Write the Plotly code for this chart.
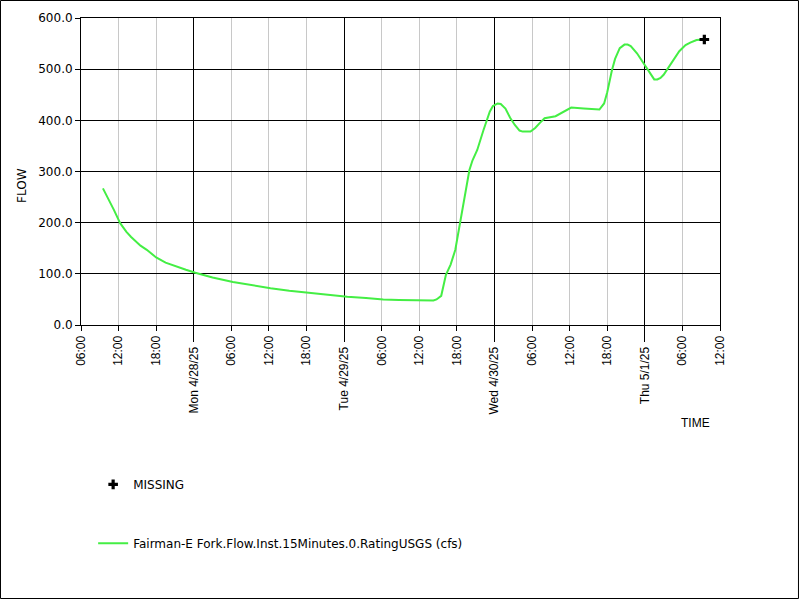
import plotly.graph_objects as go

# ---- data ----
times = [
    "2025-04-27 09:30", "2025-04-27 10:15", "2025-04-27 11:15", "2025-04-27 12:15",
    "2025-04-27 13:15", "2025-04-27 14:00", "2025-04-27 14:45", "2025-04-27 15:30",
    "2025-04-27 16:30", "2025-04-27 18:00", "2025-04-27 19:30", "2025-04-27 21:15",
    "2025-04-27 22:45", "2025-04-28 00:15", "2025-04-28 03:00", "2025-04-28 06:15",
    "2025-04-28 09:30", "2025-04-28 12:15", "2025-04-28 15:15", "2025-04-28 18:00",
    "2025-04-28 21:15", "2025-04-29 00:30", "2025-04-29 03:30", "2025-04-29 06:15",
    "2025-04-29 08:45", "2025-04-29 11:00", "2025-04-29 14:15", "2025-04-29 14:45",
    "2025-04-29 15:30", "2025-04-29 16:15", "2025-04-29 17:00", "2025-04-29 17:45",
    "2025-04-29 18:30", "2025-04-29 19:15", "2025-04-29 20:00", "2025-04-29 20:30",
    "2025-04-29 21:15", "2025-04-29 22:15", "2025-04-29 23:15", "2025-04-29 23:45",
    "2025-04-30 00:30", "2025-04-30 01:00", "2025-04-30 01:45", "2025-04-30 02:30",
    "2025-04-30 03:15", "2025-04-30 04:00", "2025-04-30 04:30", "2025-04-30 05:45",
    "2025-04-30 06:30", "2025-04-30 07:15", "2025-04-30 08:00", "2025-04-30 09:45",
    "2025-04-30 11:00", "2025-04-30 12:15", "2025-04-30 14:15", "2025-04-30 16:45",
    "2025-04-30 17:30", "2025-04-30 18:00", "2025-04-30 18:45", "2025-04-30 19:15",
    "2025-04-30 20:00", "2025-04-30 20:45", "2025-04-30 21:15", "2025-04-30 21:45",
    "2025-04-30 22:45", "2025-04-30 23:30", "2025-05-01 00:15", "2025-05-01 01:00",
    "2025-05-01 01:30", "2025-05-01 02:00", "2025-05-01 02:30", "2025-05-01 03:00",
    "2025-05-01 04:30", "2025-05-01 05:30", "2025-05-01 06:30", "2025-05-01 07:15",
    "2025-05-01 08:15", "2025-05-01 09:30",
]
flow = [
    267, 250, 225, 199,
    182, 172, 163, 155,
    147, 132, 122, 114,
    108, 102, 93, 84,
    77, 72, 67, 63,
    59, 55, 53, 50,
    49, 49, 48, 50,
    57, 98, 118, 147,
    199, 257, 303, 322,
    342, 381, 417, 428,
    433, 432, 423, 405,
    391, 380, 378, 378,
    385, 395, 404, 408,
    417, 425, 423, 421,
    433, 455, 498, 520,
    541, 548, 548, 545,
    531, 517, 502, 487,
    480, 480, 483, 489,
    518, 535, 547, 552,
    557, 558,
]

missing_times = ["2025-05-01 09:30"]
missing_flow = [558]

time_ticks = [
    "2025-04-27 06:00", "2025-04-27 12:00", "2025-04-27 18:00",
    "2025-04-28 06:00", "2025-04-28 12:00", "2025-04-28 18:00",
    "2025-04-29 06:00", "2025-04-29 12:00", "2025-04-29 18:00",
    "2025-04-30 06:00", "2025-04-30 12:00", "2025-04-30 18:00",
    "2025-05-01 06:00", "2025-05-01 12:00",
]
time_labels = ["06:00", "12:00", "18:00"] * 4 + ["06:00", "12:00"]

day_ticks = ["2025-04-28 00:00", "2025-04-29 00:00", "2025-04-30 00:00", "2025-05-01 00:00"]
day_labels = ["Mon 4/28/25", "Tue 4/29/25", "Wed 4/30/25", "Thu 5/1/25"]

x_range = ["2025-04-27 06:00", "2025-05-01 12:00"]
y_ticks = [0, 100, 200, 300, 400, 500, 600]

series_name = "Fairman-E Fork.Flow.Inst.15Minutes.0.RatingUSGS (cfs)"

ARIAL = "Liberation Sans, Arial, sans-serif"
DEJAVU = "DejaVu Sans, Verdana, sans-serif"

fig = go.Figure()
fig.add_trace(go.Scatter(
    x=times, y=flow, mode="lines", name=series_name,
    line=dict(color="#44ee44", width=2), legend="legend2",
    xaxis="x", yaxis="y",
))
fig.add_trace(go.Scatter(
    x=missing_times, y=missing_flow, mode="markers", name="MISSING",
    marker=dict(symbol="cross", color="black", size=8),
    legend="legend", xaxis="x2", yaxis="y",
))

fig.update_layout(
    width=800, height=600,
    margin=dict(l=81, r=80, t=18, b=275),
    paper_bgcolor="white", plot_bgcolor="white",
    xaxis=dict(
        range=x_range, type="date",
        tickmode="array", tickvals=time_ticks, ticktext=time_labels,
        tickangle=-90, ticks="outside", ticklen=5, tickcolor="black",
        tickfont=dict(family=ARIAL, size=12, color="black"),
        showgrid=True, gridcolor="#c8c8c8", gridwidth=1,
        showline=True, linecolor="black", linewidth=1, mirror=True,
        zeroline=False,
    ),
    xaxis2=dict(
        overlaying="x", matches="x", anchor="y", side="bottom", type="date",
        tickmode="array", tickvals=day_ticks, ticktext=day_labels,
        tickangle=-90, ticks="outside", ticklen=16, tickcolor="black",
        tickfont=dict(family=ARIAL, size=12, color="black"),
        showgrid=True, gridcolor="black", gridwidth=1,
        showline=False, zeroline=False,
    ),
    yaxis=dict(
        range=[0, 600], tickmode="array", tickvals=y_ticks,
        tickformat=".1f", ticks="outside", ticklen=5, tickcolor="black",
        tickfont=dict(family=DEJAVU, size=12, color="black"),
        showgrid=True, gridcolor="black", gridwidth=1,
        showline=True, linecolor="black", linewidth=1, mirror=True,
        zeroline=False,
    ),
    legend=dict(
        x=0.019, y=-0.472, xanchor="left", yanchor="top",
        bgcolor="rgba(0,0,0,0)", font=dict(family=DEJAVU, size=12, color="black"),
    ),
    legend2=dict(
        x=0.019, y=-0.664, xanchor="left", yanchor="top",
        bgcolor="rgba(0,0,0,0)", font=dict(family=DEJAVU, size=12, color="black"),
    ),
    showlegend=True,
    annotations=[
        dict(text="TIME", xref="paper", yref="paper", x=0.961, y=-0.319,
             showarrow=False, xanchor="center", yanchor="middle",
             font=dict(family=ARIAL, size=12, color="black")),
        dict(text="FLOW", xref="paper", yref="paper", x=-0.0923, y=0.453,
             showarrow=False, xanchor="center", yanchor="middle", textangle=-90,
             font=dict(family=DEJAVU, size=12, color="black")),
    ],
    shapes=[
        dict(type="rect", xref="paper", yref="paper",
             x0=-0.1260, x1=1.1228, y0=-0.8909, y1=1.0570,
             line=dict(color="black", width=1), fillcolor="rgba(0,0,0,0)", layer="above"),
    ],
)

fig.write_html(
    "out.html",
    config={"displayModeBar": False},
    post_script="document.body.style.margin='0';document.body.style.overflow='hidden';",
)
